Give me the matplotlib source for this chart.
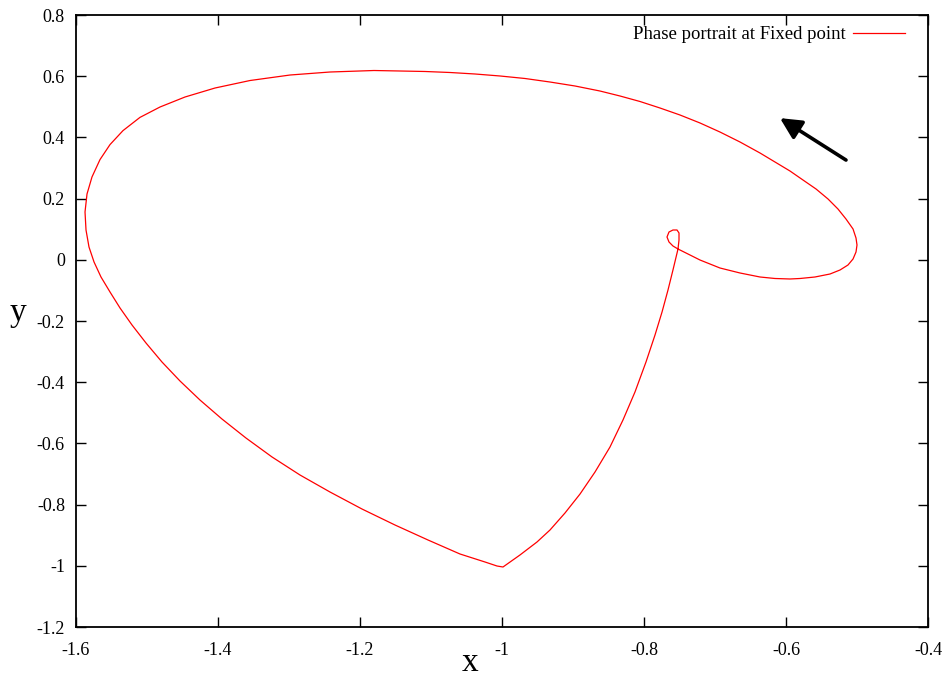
import matplotlib
matplotlib.use("Agg")
import matplotlib.pyplot as plt

plt.rcParams['font.family'] = ['Liberation Serif', 'DejaVu Serif']

# trajectory (x, y), in drawing order:
# fixed point -> lower right -> right end -> top -> left -> cusp -> back up -> small loop
traj_x = [-0.7521, -0.7211, -0.6930, -0.6648, -0.6366, -0.6155, -0.5944, -0.5803, -0.5592, -0.5380,
          -0.5239, -0.5127, -0.5056, -0.5014, -0.5000,
          -0.5014, -0.5056, -0.5155, -0.5268, -0.5408, -0.5577, -0.5761, -0.5944, -0.6155, -0.6366,
          -0.6648, -0.6930, -0.7211, -0.7493, -0.7775, -0.8056, -0.8338, -0.8620, -0.8972, -0.9324,
          -0.9676, -1.0028, -1.0380, -1.0732, -1.1085, -1.1437, -1.1803,
          -1.2423, -1.2985, -1.3549, -1.4042, -1.4465, -1.4817, -1.5099, -1.5338, -1.5521, -1.5662,
          -1.5775, -1.5845, -1.5873,
          -1.5859, -1.5817, -1.5746, -1.5648, -1.5521, -1.5380, -1.5211, -1.5014, -1.4789, -1.4535,
          -1.4254, -1.3944, -1.3606, -1.3239, -1.2845, -1.2423, -1.1972, -1.1507, -1.1042, -1.0592,
          -1.0239, -1.0070, -0.9986,
          -0.9747, -0.9507, -0.9324, -0.9113, -0.8901, -0.8690, -0.8479, -0.8296, -0.8127, -0.7972,
          -0.7845, -0.7746, -0.7662, -0.7592, -0.7521,
          -0.7507, -0.7507, -0.7535, -0.7592, -0.7648, -0.7676, -0.7648, -0.7592, -0.7521]
traj_y = [0.0353, -0.0007, -0.0268, -0.0431, -0.0562, -0.0611, -0.0627, -0.0611, -0.0562, -0.0464,
          -0.0333, -0.0170, 0.0026, 0.0255, 0.0484,
          0.0712, 0.1007, 0.1333, 0.1660, 0.1987, 0.2314, 0.2608, 0.2902, 0.3196, 0.3490,
          0.3850, 0.4176, 0.4471, 0.4732, 0.4961, 0.5173, 0.5353, 0.5516, 0.5680, 0.5810,
          0.5925, 0.6007, 0.6072, 0.6121, 0.6154, 0.6170, 0.6186,
          0.6137, 0.6039, 0.5859, 0.5614, 0.5320, 0.4993, 0.4654, 0.4222, 0.3765, 0.3275,
          0.2706, 0.2150, 0.1562,
          0.0974, 0.0418, -0.0072, -0.0562, -0.1052, -0.1575, -0.2131, -0.2719, -0.3340, -0.3961,
          -0.4582, -0.5203, -0.5824, -0.6444, -0.7033, -0.7588, -0.8144, -0.8667, -0.9157, -0.9614,
          -0.9876, -1.0007, -1.0039,
          -0.9647, -0.9222, -0.8830, -0.8275, -0.7654, -0.6935, -0.6118, -0.5235, -0.4320, -0.3340,
          -0.2458, -0.1706, -0.0987, -0.0333, 0.0353,
          0.0647, 0.0876, 0.0974, 0.0974, 0.0908, 0.0745, 0.0582, 0.0451, 0.0353]

legend_label = "Phase portrait at Fixed point"
x_ticks = [-1.6, -1.4, -1.2, -1.0, -0.8, -0.6, -0.4]
x_tick_labels = ["-1.6", "-1.4", "-1.2", "-1", "-0.8", "-0.6", "-0.4"]
y_ticks = [-1.2, -1.0, -0.8, -0.6, -0.4, -0.2, 0.0, 0.2, 0.4, 0.6, 0.8]
y_tick_labels = ["-1.2", "-1", "-0.8", "-0.6", "-0.4", "-0.2", "0", "0.2", "0.4", "0.6", "0.8"]
arrow_tail = (-0.5155, 0.326)
arrow_tip = (-0.6085, 0.463)

fig = plt.figure(figsize=(9.44, 6.77), dpi=100)
ax = fig.add_axes([76/944, 50/677, 852/944, 612/677])

ax.plot(traj_x, traj_y, color='#ff0000', lw=0.9, label=legend_label,
        solid_joinstyle='round')

ax.set_xlim(-1.6, -0.4)
ax.set_ylim(-1.2, 0.8)
ax.set_xticks(x_ticks)
ax.set_xticklabels(x_tick_labels)
ax.set_yticks(y_ticks)
ax.set_yticklabels(y_tick_labels)
ax.tick_params(direction='in', length=7, width=1, top=True, right=True,
               labelsize=13, colors='black')
ax.tick_params(axis='x', pad=11)
ax.tick_params(axis='y', pad=8)
for s in ax.spines.values():
    s.set_linewidth(1.3)

ax.set_xlabel("x", fontsize=24)
ax.xaxis.set_label_coords((470 - 76) / 852, -0.059)
ax.xaxis.label.set_va('center')
ax.set_ylabel("y", fontsize=24, rotation=0, va='center', ha='center')
ax.yaxis.set_label_coords((18 - 76) / 852, (627 - 313) / 612)

ax.annotate("", xy=arrow_tip, xytext=arrow_tail,
            arrowprops=dict(arrowstyle='-|>', color='black', lw=2.6,
                            mutation_scale=32, shrinkA=0, shrinkB=0))

leg = ax.legend(loc='upper right', frameon=False, fontsize=13.5, markerfirst=False,
                handlelength=2.8, borderpad=0, borderaxespad=0, handletextpad=0.35,
                bbox_to_anchor=((905 - 76) / 852, (627 - 26) / 612))

fig.savefig("out.png", dpi=100)
